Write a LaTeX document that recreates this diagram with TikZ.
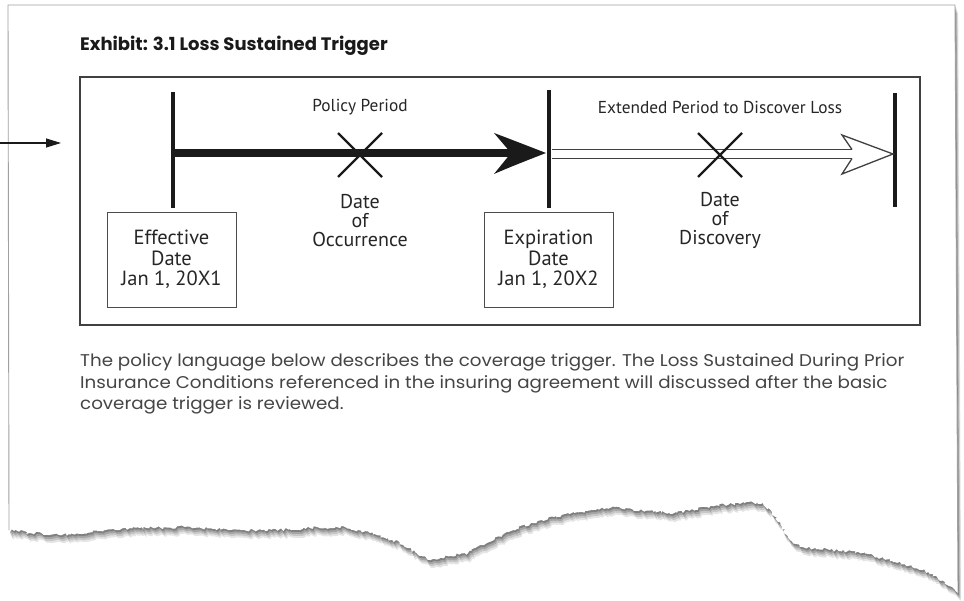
\documentclass[tikz,border=0pt]{standalone}
\usepackage{fontspec}
\setmainfont{PT Sans}
\newfontfamily\titlefont{Poppins}
\newfontfamily\parafont{Poppins}[FakeStretch=1.075]
\usetikzlibrary{decorations.pathmorphing,arrows.meta}
\definecolor{ink}{HTML}{1A1A1A}
\definecolor{txt}{HTML}{262626}
\definecolor{para}{HTML}{454545}
\definecolor{edgegray}{HTML}{A0A0A0}
\newcommand{\tornpaper}{%
  (8,5) -- (955,5) -- (958,593)
  decorate[decoration={random steps,segment length=2pt,amplitude=1.6pt}]{
   -- (945,582) -- (923,570) -- (893,561) -- (862,553) -- (830,550) -- (800,547)
   -- (790,540) -- (782,527) -- (772,512) -- (763,503) -- (738,503) -- (705,507)
   -- (677,513) -- (645,511) -- (615,507) -- (585,511) -- (554,517) -- (530,524)
   -- (505,533) -- (487,543) -- (468,553) -- (450,556) -- (431,560) -- (415,552)
   -- (400,543) -- (370,533) -- (345,527) -- (310,528) -- (277,530) -- (230,530)
   -- (185,527) -- (140,528) -- (100,531) -- (62,535) -- (30,533) -- (9,530)}
  -- cycle}
\begin{document}
\begin{tikzpicture}[x=1pt,y=-1pt,
  box/.style={draw=black!70, line width=0.9pt, minimum width=129pt, minimum height=95pt,
    align=center, inner sep=0pt, text=txt, font=\fontsize{20.5}{20.5}\selectfont},
  lbl/.style={align=center, inner sep=0pt, text=txt, font=\fontsize{20}{18.8}\selectfont},
  toplbl/.style={inner sep=0pt, text=txt, font=\fontsize{17.3}{18}\selectfont},
  paraline/.style={anchor=west, inner sep=0pt, text=para, font=\parafont\fontsize{17}{20}\selectfont},
  tick/.style={line width=4pt, draw=ink},
  xmark/.style={line width=2.2pt, draw=ink}]
\useasboundingbox (0,0) rectangle (964,601);
\fill[white] (0,0) rectangle (964,601);
% shadow of the paper
\foreach \d/\o in {8/0.10,6/0.13,4/0.17,2/0.22}{
  \pgfmathsetseed{11}
  \begin{scope}[xshift=\d*0.4pt, yshift=-\d pt]
    \fill[black, opacity=\o] \tornpaper;
  \end{scope}
}
\pgfmathsetseed{11}
\fill[white] \tornpaper;
\draw[edgegray, line width=0.9pt] (9,530) -- (8,5) -- (955,5) -- (958,593);

% title
\node[anchor=west, inner sep=0pt, text=ink, font=\titlefont\bfseries\fontsize{18}{20}\selectfont] (title) at (80,46) {Exhibit: 3.1 Loss Sustained Trigger};

% pointer arrow at left
\coordinate (pa) at (0,143);
\coordinate (pb) at (61,143);
\draw[line width=1.2pt, draw=ink, -{Triangle[length=15pt,width=9pt]}] (pa) -- (pb);

% frame
\draw[line width=1.3pt, draw=black!75] (80,77) rectangle (920,325);

% vertical ticks
\coordinate (v1t) at (173,92);  \coordinate (v1b) at (173,208);
\coordinate (v2t) at (549,90);  \coordinate (v2b) at (549,208);
\coordinate (v3t) at (895,93);  \coordinate (v3b) at (895,207);
\draw[tick] (v1t) -- (v1b);
\draw[tick] (v2t) -- (v2b);
\draw[tick] (v3t) -- (v3b);

% thick solid arrow (policy period)
\coordinate (s1) at (173,153);
\coordinate (s2) at (512,153);
\draw[line width=8pt, draw=ink] (s1) -- (s2);
\fill[ink] (546,153) .. controls (528,146) and (510,139) .. (494,133)
  -- (511,153) -- (494,174) .. controls (510,167) and (528,160) .. (546,153) -- cycle;

% open double arrow (extended period)
\coordinate (d1) at (552,149.5);
\coordinate (d2) at (852,149.5);
\coordinate (d3) at (552,158.5);
\coordinate (d4) at (852,158.5);
\draw[line width=1.3pt, draw=black!75] (d1) -- (d2) (d3) -- (d4);
\draw[line width=1.3pt, draw=black!75, line join=miter]
  (d2) -- (842,135) -- (893,154) -- (842,174) -- (d4);

% X marks
\draw[xmark] (338,133) -- (382,177) (338,177) -- (382,133);
\draw[xmark] (698,133) -- (742,177) (698,177) -- (742,133);

% labels
\node[toplbl] (pp) at (360,107) {Policy Period};
\node[toplbl] (ep) at (720,107) {Extended Period to Discover Loss};
\node[lbl] (occ) at (360,220.5) {Date\\of\\Occurrence};
\node[lbl] (disc) at (720,220.5) {Date\\of\\Discovery};

% boxes
\node[box] (eff) at (171.5,259.5) {Effective\\Date\\Jan 1, 20X1};
\node[box] (exp) at (548.5,259.5) {Expiration\\Date\\Jan 1, 20X2};

% paragraph
\node[paraline] (p1) at (80,362.5) {The policy language below describes the coverage trigger. The Loss Sustained During Prior};
\node[paraline] (p2) at (80,384) {Insurance Conditions referenced in the insuring agreement will discussed after the basic};
\node[paraline] (p3) at (80,405.5) {coverage trigger is reviewed.};
\end{tikzpicture}
\end{document}
